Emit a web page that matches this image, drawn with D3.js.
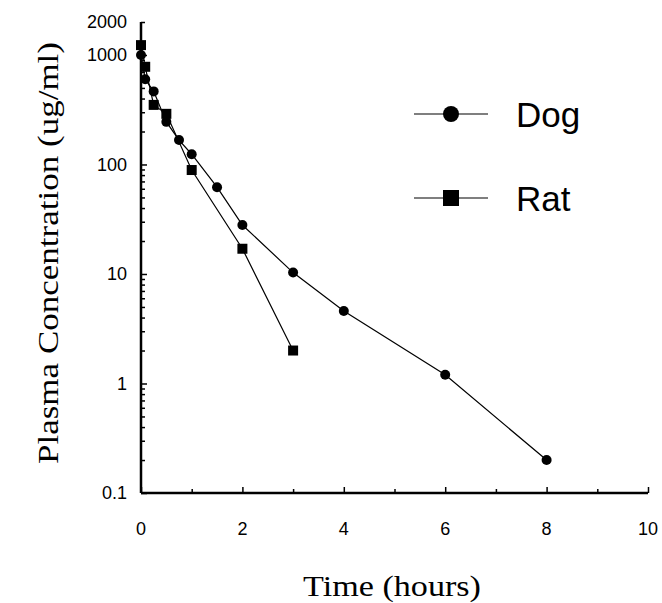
<!DOCTYPE html>
<html>
<head>
<meta charset="utf-8">
<script src="https://cdn.jsdelivr.net/npm/d3@7"></script>
<style>
    body { margin: 0; background: #fff; }
    .tick-label { font-family: "Liberation Sans", Arial, sans-serif; font-size: 18px; fill: #000; }
    .title { font-family: "Liberation Serif", "Times New Roman", serif; font-size: 29px; fill: #000; }
    .legend-label { font-family: "Liberation Sans", Arial, sans-serif; font-size: 35px; fill: #000; }
</style>
</head>
<body>
<div id="chart"></div>
<script>
// data
var dogTime = [0, 0.083, 0.25, 0.5, 0.75, 1, 1.5, 2, 3, 4, 6, 8];
var dogConc = [1000, 600, 465, 245, 167, 124, 62, 28, 10.3, 4.6, 1.2, 0.2];
var ratTime = [0, 0.083, 0.25, 0.5, 1, 2, 3];
var ratConc = [1230, 780, 350, 290, 89, 17, 2];

var xTicks = [0, 2, 4, 6, 8, 10];
var yTicks = [0.1, 1, 10, 100, 1000, 2000];

//globals
var width = 662;
var height = 603;
var margin = { top: 22, left: 141, right: 14, bottom: 110 };

var svg = d3.select("#chart").append("svg")
    .attr("width", width)
    .attr("height", height);

var x = d3.scaleLinear()
    .domain([0, 10])
    .range([margin.left, width - margin.right]);

var y = d3.scaleLog()
    .domain([0.1, 2000])
    .range([height - margin.bottom, margin.top]);

//minor ticks
var xMinor = d3.range(1, 10, 2);
var yMinor = [];
[0.1, 1, 10, 100].forEach(function(d) {
    for (var i = 2; i <= 9; i++) { yMinor.push(d * i); }
});
yMinor.push(2000);

//x axis
var xAxis = svg.append("g")
    .attr("transform", "translate(0," + y(0.1) + ")")
    .call(d3.axisBottom(x).tickValues(xTicks).tickSize(-6).tickFormat(""));
xAxis.select(".domain").attr("stroke-width", 2.5).attr("d", "M" + x(0) + ",0H" + x(10));
xAxis.selectAll(".tick line").attr("stroke-width", 1.5);

svg.append("g")
    .attr("transform", "translate(0," + y(0.1) + ")")
    .call(d3.axisBottom(x).tickValues(xMinor).tickSize(-4).tickFormat(""))
    .call(function(g) { g.select(".domain").remove(); })
    .selectAll(".tick line").attr("stroke-width", 1.5);

svg.selectAll(".xlbl")
    .data(xTicks)
    .enter()
    .append("text")
    .attr("class", "tick-label")
    .attr("x", function(d) { return x(d); })
    .attr("y", y(0.1) + 42)
    .attr("text-anchor", "middle")
    .text(function(d) { return d; });

//y axis
var yAxis = svg.append("g")
    .attr("transform", "translate(" + x(0) + ",0)")
    .call(d3.axisLeft(y).tickValues(yTicks.slice(0, 5)).tickSize(-6).tickFormat(""));
yAxis.select(".domain").attr("stroke-width", 2.5).attr("d", "M0," + y(2000) + "V" + y(0.1));
yAxis.selectAll(".tick line").attr("stroke-width", 1.5);

svg.append("g")
    .attr("transform", "translate(" + x(0) + ",0)")
    .call(d3.axisLeft(y).tickValues(yMinor).tickSize(-4).tickFormat(""))
    .call(function(g) { g.select(".domain").remove(); })
    .selectAll(".tick line").attr("stroke-width", 1.5);

svg.selectAll(".ylbl")
    .data(yTicks)
    .enter()
    .append("text")
    .attr("class", "tick-label")
    .attr("x", x(0) - 14)
    .attr("y", function(d) { return y(d); })
    .attr("dy", "0.35em")
    .attr("text-anchor", "end")
    .text(function(d) { return d; });

//axis titles, stretched a bit like the scanned original
svg.append("text")
    .attr("class", "title")
    .attr("transform", "translate(58,253) rotate(-90)")
    .attr("text-anchor", "middle")
    .attr("textLength", 422)
    .attr("lengthAdjust", "spacingAndGlyphs")
    .text("Plasma Concentration (ug/ml)");

svg.append("text")
    .attr("class", "title")
    .attr("x", 392)
    .attr("y", 596)
    .attr("text-anchor", "middle")
    .attr("textLength", 178)
    .attr("lengthAdjust", "spacingAndGlyphs")
    .text("Time (hours)");

//series lines
var line = d3.line()
    .x(function(d) { return x(d[0]); })
    .y(function(d) { return y(d[1]); });

var dog = d3.zip(dogTime, dogConc);
var rat = d3.zip(ratTime, ratConc);

svg.append("path").datum(dog)
    .attr("d", line).attr("fill", "none").attr("stroke", "#000").attr("stroke-width", 1.2);
svg.append("path").datum(rat)
    .attr("d", line).attr("fill", "none").attr("stroke", "#000").attr("stroke-width", 1.2);

//markers
svg.selectAll(".dog")
    .data(dog)
    .enter()
    .append("circle")
    .attr("class", "dog")
    .attr("cx", function(d) { return x(d[0]); })
    .attr("cy", function(d) { return y(d[1]); })
    .attr("r", 5)
    .style("fill", "#000");

svg.selectAll(".rat")
    .data(rat)
    .enter()
    .append("rect")
    .attr("class", "rat")
    .attr("x", function(d) { return x(d[0]) - 5; })
    .attr("y", function(d) { return y(d[1]) - 5; })
    .attr("width", 10)
    .attr("height", 10)
    .style("fill", "#000");

//legend
var legend = [
    { lbl: "Dog", shape: "circle", ly: 114 },
    { lbl: "Rat", shape: "square", ly: 198 }];

var lg = svg.selectAll(".legend")
    .data(legend)
    .enter()
    .append("g")
    .attr("class", "legend")
    .attr("transform", function(d) { return "translate(0," + d.ly + ")"; });

lg.append("line")
    .attr("x1", 414).attr("x2", 488)
    .attr("y1", 0).attr("y2", 0)
    .attr("stroke", "#000").attr("stroke-width", 1.2);

lg.filter(function(d) { return d.shape == "circle"; })
    .append("circle")
    .attr("cx", 451).attr("cy", 0).attr("r", 8)
    .style("fill", "#000");

lg.filter(function(d) { return d.shape == "square"; })
    .append("rect")
    .attr("x", 443).attr("y", -8).attr("width", 16).attr("height", 16)
    .style("fill", "#000");

lg.append("text")
    .attr("class", "legend-label")
    .attr("x", 516)
    .attr("y", 13)
    .text(function(d) { return d.lbl; });
</script>
</body>
</html>
